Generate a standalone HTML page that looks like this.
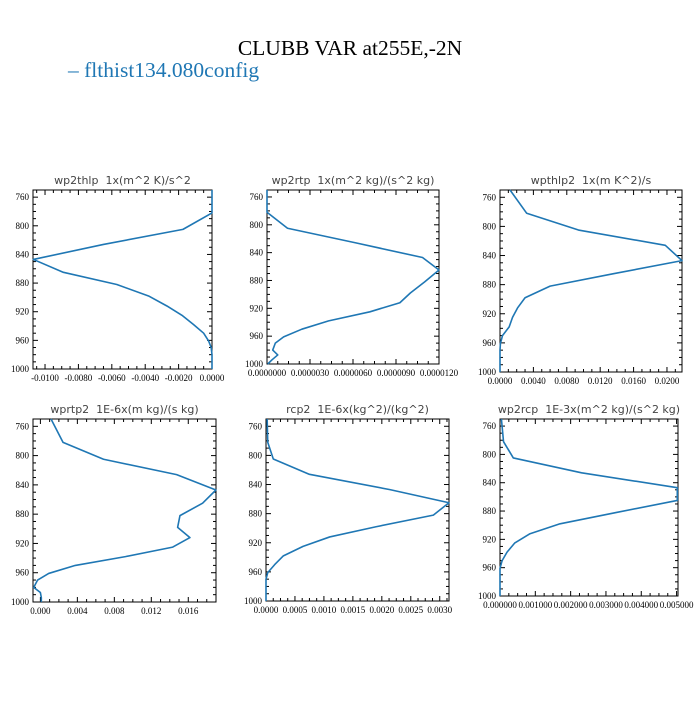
<!DOCTYPE html>
<html><head><meta charset="utf-8"><style>
body{margin:0;background:#fff;}
svg text{font-family:"Liberation Serif",serif;}
</style></head><body>
<svg id="fig" width="700" height="700" viewBox="0 0 700 700">
<text x="350" y="55" text-anchor="middle" font-size="21.5" fill="#000">CLUBB VAR at255E,-2N</text>
<g>
<text x="68" y="77" font-size="21.5" fill="#1f77b4">– flthist134.080config</text>
</g>
</svg>
<script>
const levels=[750,782,805,826,847,865,882,898,912,925,938,950,961,970,980,987,994,1000];
const yTicks=[760,800,840,880,920,960,1000];
const wp2thlp=[0,0,-0.00174,-0.0065,-0.0107,-0.0089,-0.0057,-0.0038,-0.0027,-0.0018,-0.0011,-0.0005,-0.0002,-0.00005,0,0,0,0];
const wp2rtp=[0,0,1.43e-6,6.2e-6,10.85e-6,12.0e-6,11.0e-6,10.0e-6,9.27e-6,7.18e-6,4.3e-6,2.43e-6,1.16e-6,0.58e-6,0.4e-6,0.75e-6,0.35e-6,0.05e-6];
const wpthlp2=[0.0012,0.0032,0.0094,0.0198,0.0218,0.0136,0.006,0.003,0.0021,0.0015,0.0011,0.0003,0.00005,0,0,0,0,0];
const wprtp2=[0.00115,0.00245,0.00683,0.01474,0.01899,0.01755,0.0151,0.01485,0.01618,0.01432,0.0092,0.00378,0.0009,-0.0003,-0.00072,0,0.0001,0.0001];
const rcp2=[0.00002,0.00003,0.000126,0.00075,0.00214,0.00316,0.00289,0.0019,0.0011,0.00064,0.0003,0.00015,0.00003,0,0,0,0,0];
const wp2rcp=[0.00004,0.0001,0.000377,0.00231,0.00502,0.00502,0.0033,0.0017,0.00085,0.00042,0.0002,0.00006,0,0,0,0,0,0];
const ticks1=["-0.0100","-0.0080","-0.0060","-0.0040","-0.0020","0.0000"];
const ticks2=["0.0000000","0.0000030","0.0000060","0.0000090","0.0000120"];
const ticks3=["0.0000","0.0040","0.0080","0.0120","0.0160","0.0200"];
const ticks4=["0.000","0.004","0.008","0.012","0.016"];
const ticks5=["0.0000","0.0005","0.0010","0.0015","0.0020","0.0025","0.0030"];
const ticks6=["0.000000","0.001000","0.002000","0.003000","0.004000","0.005000"];
const titles=["wp2thlp  1x(m^2 K)/s^2","wp2rtp  1x(m^2 kg)/(s^2 kg)","wpthlp2  1x(m K^2)/s","wprtp2  1E-6x(m kg)/(s kg)","rcp2  1E-6x(kg^2)/(kg^2)","wp2rcp  1E-3x(m^2 kg)/(s^2 kg)"];
const NS="http://www.w3.org/2000/svg";
const svg=document.getElementById('fig');
const panels=[
 {id:'wp2thlp',vals:wp2thlp,ticks:ticks1,box:[33,190,212,369],xd:[-0.01072,0]},
 {id:'wp2rtp',vals:wp2rtp,ticks:ticks2,box:[267,190,439,364],xd:[0,1.2e-5]},
 {id:'wpthlp2',vals:wpthlp2,ticks:ticks3,box:[500,190,682,372],xd:[0,0.0218]},
 {id:'wprtp2',vals:wprtp2,ticks:ticks4,box:[33,419,216,602],xd:[-0.0008,0.019]},
 {id:'rcp2',vals:rcp2,ticks:ticks5,box:[266,419,449,601],xd:[0,0.00316]},
 {id:'wp2rcp',vals:wp2rcp,ticks:ticks6,box:[500,419,678,596],xd:[0,0.00504]}
];
function mk(tag,attrs,parent){const e=document.createElementNS(NS,tag);for(const k in attrs)e.setAttribute(k,attrs[k]);parent.appendChild(e);return e;}
panels.forEach((p,i)=>{
 const [x0,y0,x1,y1]=p.box;
 const g=mk('g',{},svg);
 
 
 const X=v=>x0+(v-p.xd[0])/(p.xd[1]-p.xd[0])*(x1-x0);
 const Y=v=>y0+(v-750)/250*(y1-y0);
 const t=mk('text',{x:(x0+x1)/2,y:y0-6,'text-anchor':'middle','font-size':'11',fill:'#444',style:'font-family:"DejaVu Sans",sans-serif;white-space:pre'},g);
 t.textContent=titles[i];
 
 
 const fr=mk('rect',{x:x0,y:y0,width:x1-x0,height:y1-y0,fill:'none',stroke:'#000','stroke-width':1},g);
 
 
 for(let v=750;v<=1000;v+=10){
  const maj=yTicks.includes(v);const L=maj?5:3;const yy=Y(v);
  mk('line',{x1:x0,y1:yy,x2:x0+L,y2:yy,stroke:'#000','stroke-width':1},g);
  mk('line',{x1:x1,y1:yy,x2:x1-L,y2:yy,stroke:'#000','stroke-width':1},g);
 }
 yTicks.forEach(v=>{
  const tl=mk('text',{x:x0-4,y:Y(v)+3,'text-anchor':'end','font-size':'9',fill:'#000'},g);
  tl.textContent=String(v);
  
  
 });
 const tv=p.ticks.map(parseFloat);const step=tv[1]-tv[0];
 for(let k=-8;k<=tv.length*4+8;k++){
  const v=tv[0]+k*step/4;
  if(v<p.xd[0]-1e-12||v>p.xd[1]+1e-12)continue;
  const maj=k%4===0;const L=maj?5:3;const xx=X(v);
  mk('line',{x1:xx,y1:y1,x2:xx,y2:y1-L,stroke:'#000','stroke-width':1},g);
  mk('line',{x1:xx,y1:y0,x2:xx,y2:y0+L,stroke:'#000','stroke-width':1},g);
 }
 p.ticks.forEach((s,j)=>{
  const tl=mk('text',{x:X(tv[j]),y:y1+12,'text-anchor':'middle','font-size':'9',fill:'#000'},g);
  tl.textContent=s;
  
  
 });
 const pts=levels.map((lv,j)=>X(p.vals[j]).toFixed(2)+','+Y(lv).toFixed(2)).join(' ');
 const ln=mk('polyline',{points:pts,fill:'none',stroke:'#1f77b4','stroke-width':1.6,'stroke-linejoin':'round'},g);
 
 
});
</script>
</body></html>
